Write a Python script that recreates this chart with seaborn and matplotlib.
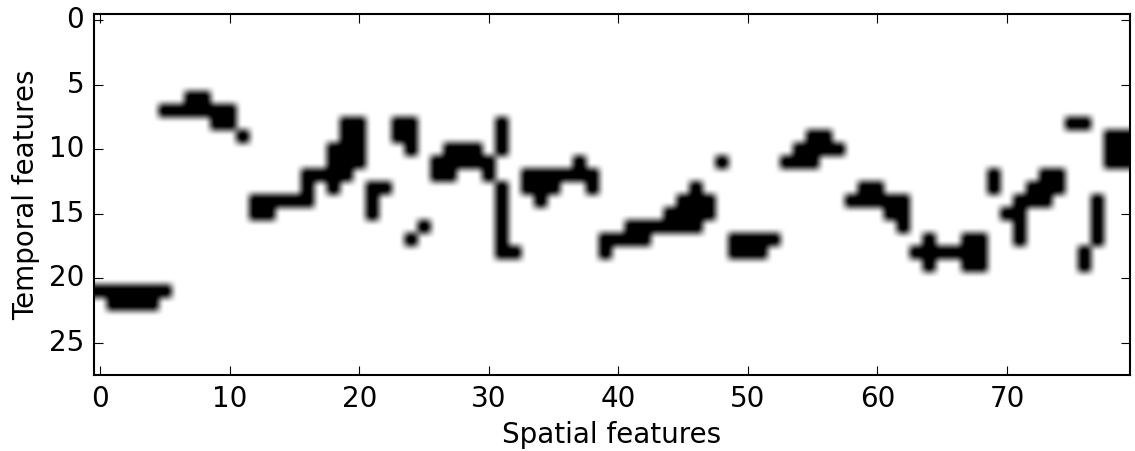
#!/usr/bin/env python3
"""Binary spatio-temporal feature map, smoothed like an imshow."""

import numpy as np
import matplotlib
matplotlib.use("Agg")
import matplotlib.pyplot as plt
import seaborn as sns

N_TEMPORAL = 28
N_SPATIAL = 80

# active spatial features for each temporal row
active_rows = [6, 7, 8, 9, 10, 11, 12, 13, 14, 15, 16, 17, 18, 19, 21, 22]
active_cols = [
    [7, 8],
    [5, 6, 7, 8, 9, 10],
    [9, 10, 19, 20, 23, 24, 31, 75, 76],
    [11, 19, 20, 23, 24, 31, 55, 56, 78, 79],
    [18, 19, 20, 24, 27, 28, 29, 31, 54, 55, 56, 57, 78, 79],
    [18, 19, 20, 26, 27, 28, 29, 30, 37, 48, 53, 54, 55, 78, 79],
    [16, 17, 18, 19, 26, 27, 30, 33, 34, 35, 36, 37, 38, 69, 73, 74],
    [16, 18, 21, 22, 31, 33, 34, 35, 38, 46, 59, 60, 69, 72, 73, 74],
    [12, 13, 14, 15, 16, 21, 31, 34, 45, 46, 47, 58, 59, 60, 61, 62, 71, 72, 73, 77],
    [12, 13, 21, 31, 44, 45, 46, 47, 61, 62, 70, 71, 77],
    [25, 31, 41, 42, 43, 44, 45, 46, 62, 71, 77],
    [24, 31, 39, 40, 41, 42, 49, 50, 51, 52, 64, 67, 68, 71, 77],
    [31, 32, 39, 49, 50, 51, 63, 64, 65, 66, 67, 68, 76],
    [64, 67, 68, 76],
    [0, 1, 2, 3, 4, 5],
    [1, 2, 3, 4],
]

matrix = np.zeros((N_TEMPORAL, N_SPATIAL))
for row, cols in zip(active_rows, active_cols):
    matrix[row, cols] = 1

sns.set_style("white")
plt.rcParams["font.family"] = ["DejaVu Sans"]

fig = plt.figure(figsize=(11.35, 4.51), dpi=100)
ax = fig.add_axes([94 / 1135, 1 - 375 / 451, (1130 - 94) / 1135, (375 - 14) / 451])

sns.heatmap(matrix, cmap="gray_r", vmin=0, vmax=1, cbar=False,
            xticklabels=10, yticklabels=5, ax=ax)
# same data again on top, the original is a smoothed image
ax.imshow(matrix, cmap="gray_r", vmin=0, vmax=0.92, aspect="auto", zorder=1.5,
          interpolation="hermite", extent=(0, N_SPATIAL, N_TEMPORAL, 0))

ax.set_axisbelow(False)
ax.tick_params(axis="both", which="major", direction="in", length=6.5, width=0.8,
               top=True, right=True, bottom=True, left=True,
               color="black", labelcolor="black", labelsize=20, pad=7)
plt.setp(ax.get_xticklabels(), rotation=0)
plt.setp(ax.get_yticklabels(), rotation=0)

for spine in ax.spines.values():
    spine.set_visible(True)
    spine.set_linewidth(1.5)
    spine.set_color("black")

ax.set_xlabel("Spatial features", fontsize=20, color="black", labelpad=6)
ax.set_ylabel("Temporal features", fontsize=20, color="black", labelpad=6)

fig.savefig("out.png", dpi=100)
plt.close(fig)
